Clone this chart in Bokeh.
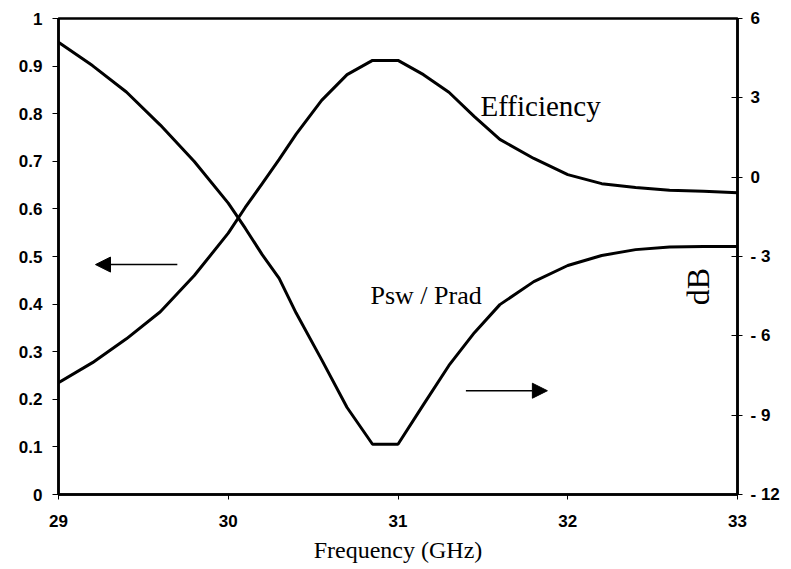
import math
from bokeh.plotting import figure
from bokeh.models import (Range1d, LinearAxis, FixedTicker, Label, Arrow, NormalHead)
from bokeh.embed import file_html
from bokeh.resources import INLINE

# ---- data ----
freq_ghz = [29.0, 29.2, 29.4, 29.6, 29.8, 30.0, 30.1, 30.2, 30.3, 30.4, 30.55, 30.7,
            30.85, 31.0, 31.15, 31.3, 31.45, 31.6, 31.8, 32.0, 32.2, 32.4, 32.6, 32.8, 33.0]
efficiency = [0.235, 0.277, 0.327, 0.384, 0.46, 0.549, 0.603, 0.653, 0.704, 0.757, 0.828, 0.882,
              0.912, 0.912, 0.882, 0.845, 0.794, 0.746, 0.706, 0.672, 0.653, 0.645, 0.639, 0.637, 0.634]
psw_prad_db = [5.10, 4.22, 3.22, 1.97, 0.59, -0.98, -1.93, -2.93, -3.83, -5.14, -6.9, -8.71,
               -10.1, -10.1, -8.6, -7.12, -5.88, -4.82, -3.95, -3.34, -2.96, -2.74, -2.64, -2.62, -2.62]

x_ticks = [29, 30, 31, 32, 33]
left_ticks = [0, 0.1, 0.2, 0.3, 0.4, 0.5, 0.6, 0.7, 0.8, 0.9, 1]
left_labels = ["0", "0.1", "0.2", "0.3", "0.4", "0.5", "0.6", "0.7", "0.8", "0.9", "1"]
right_ticks = [-12, -9, -6, -3, 0, 3, 6]
right_labels = ["- 12", "- 9", "- 6", "- 3", "0", "3", "6"]

SANS = "Liberation Sans"
SERIF = "Liberation Serif"
TICK_STYLE = "bold"

p = figure(width=787, height=566, output_backend="svg", toolbar_location=None,
           x_range=Range1d(29, 33), y_range=Range1d(0, 1),
           min_border_left=58, min_border_top=18, min_border_right=50, min_border_bottom=72)
p.extra_y_ranges = {"db": Range1d(-12, 6)}

p.xgrid.visible = False
p.ygrid.visible = False
p.background_fill_color = "white"
p.border_fill_color = "white"
p.outline_line_color = "black"
p.outline_line_width = 2.5
p.outline_line_alpha = 1.0

# bottom axis
xa = p.xaxis[0]
xa.ticker = FixedTicker(ticks=x_ticks)
xa.axis_line_width = 2.5
xa.major_tick_out = 5
xa.major_tick_in = 0
xa.minor_tick_out = 0
xa.minor_tick_in = 0
xa.major_tick_line_width = 1
xa.major_label_text_font = SANS
xa.major_label_text_font_size = "17px"
xa.major_label_text_font_style = TICK_STYLE
xa.major_label_text_color = "black"
xa.major_label_standoff = 15
xa.axis_label = "Frequency (GHz)"
xa.axis_label_text_font = SERIF
xa.axis_label_text_font_style = "normal"
xa.axis_label_text_font_size = "24px"
xa.axis_label_text_color = "black"
xa.axis_label_standoff = 7

# left axis
ya = p.yaxis[0]
ya.ticker = FixedTicker(ticks=left_ticks)
ya.major_label_overrides = {t: l for t, l in zip(left_ticks, left_labels)}
ya.axis_line_width = 2.5
ya.major_tick_out = 6
ya.major_tick_in = 0
ya.minor_tick_out = 0
ya.minor_tick_in = 0
ya.major_tick_line_width = 1
ya.major_label_text_font = SANS
ya.major_label_text_font_size = "17px"
ya.major_label_text_font_style = TICK_STYLE
ya.major_label_text_color = "black"
ya.major_label_standoff = 10

# right axis (dB)
ra = LinearAxis(y_range_name="db", ticker=FixedTicker(ticks=right_ticks))
ra.major_label_overrides = {t: l for t, l in zip(right_ticks, right_labels)}
ra.axis_line_width = 2.5
ra.major_tick_out = 5
ra.major_tick_in = 6
ra.minor_tick_out = 0
ra.minor_tick_in = 0
ra.major_tick_line_width = 1
ra.major_label_text_font = SANS
ra.major_label_text_font_size = "17px"
ra.major_label_text_font_style = TICK_STYLE
ra.major_label_text_color = "black"
ra.major_label_standoff = 8
p.add_layout(ra, "right")

# curves
p.line(freq_ghz, efficiency, line_color="black", line_width=3)
p.line(freq_ghz, psw_prad_db, line_color="black", line_width=3, y_range_name="db")

# annotations
p.add_layout(Label(x=31.486, y=0.817, text="Efficiency", text_font=SERIF,
                   text_font_size="29px", text_baseline="alphabetic", text_color="black"))
p.add_layout(Label(x=30.838, y=0.418, text="Psw / Prad", text_font=SERIF,
                   text_font_size="26px", text_baseline="alphabetic", text_color="black"))
p.add_layout(Label(x=32.765, y=0.437, text="dB", text_font=SERIF, angle=math.pi / 2,
                   text_font_size="32px", text_align="center", text_baseline="middle",
                   text_color="black"))

p.add_layout(Arrow(end=NormalHead(size=15, fill_color="black", line_color="black"),
                   x_start=29.70, y_start=0.483, x_end=29.218, y_end=0.483,
                   line_color="black", line_width=1.5))
p.add_layout(Arrow(end=NormalHead(size=15, fill_color="black", line_color="black"),
                   x_start=31.40, y_start=0.218, x_end=31.88, y_end=0.218,
                   line_color="black", line_width=1.5))

open("out.html", "w").write(file_html(p, INLINE))
